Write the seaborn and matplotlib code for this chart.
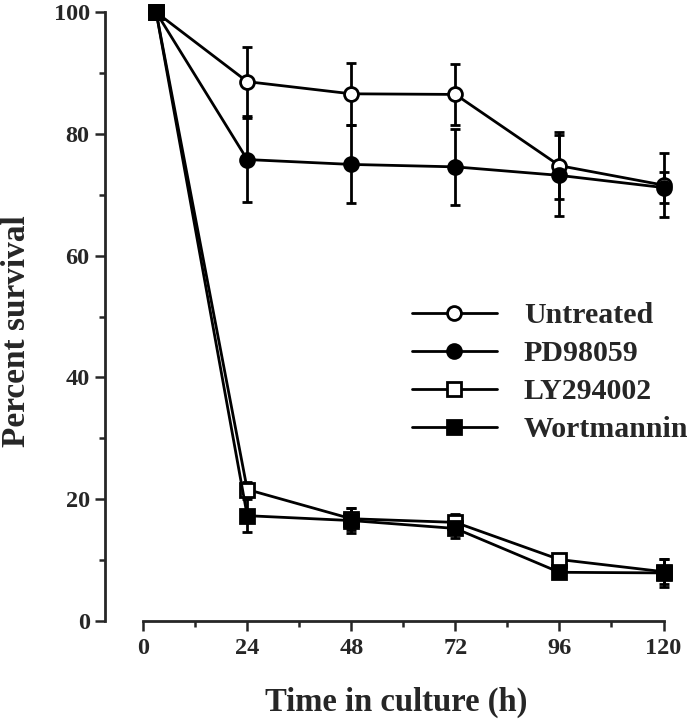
import numpy as np
import pandas as pd
import seaborn as sns
import matplotlib.pyplot as plt
from matplotlib.lines import Line2D
from matplotlib.ticker import MultipleLocator

# time points (h); first measurement is plotted just right of 0
hours = [3, 24, 48, 72, 96, 120]

untreated = [100, 88.6, 86.6, 86.5, 74.8, 71.6]
untreated_err = [0, 5.7, 5.1, 5.0, 5.5, 5.2]

pd98059 = [100, 75.8, 75.0, 74.6, 73.2, 71.2]
pd98059_err = [0, 6.9, 6.4, 6.3, 6.6, 2.6]

ly294002 = [100, 21.6, 16.8, 16.2, 10.1, 8.1]
ly294002_err = [0, 1.2, 1.8, 1.3, 0.6, 2.1]

wortmannin = [100, 17.3, 16.5, 15.2, 8.0, 7.9]
wortmannin_err = [0, 2.7, 2.0, 1.6, 0.6, 2.3]

labels = ["Untreated", "PD98059", "LY294002", "Wortmannin"]

sns.set_style("ticks")
plt.rcParams['font.family'] = ['Liberation Serif', 'DejaVu Serif']
plt.rcParams['font.weight'] = 'bold'

series = [
    (labels[0], untreated, untreated_err, 'o', 'white', 10),
    (labels[1], pd98059, pd98059_err, 'o', 'black', 10),
    (labels[2], ly294002, ly294002_err, 's', 'white', 10),
    (labels[3], wortmannin, wortmannin_err, 's', 'black', 10),
]

fig = plt.figure(figsize=(6.93, 7.2), dpi=100)
ax = fig.add_axes([0.1515, 0.1375, 0.831, 0.8455])

lw = 2.0
handles = []
for name, vals, errs, mk, fc, ms in series:
    df = pd.DataFrame({"hours": hours, "survival": vals})
    ax.errorbar(hours, vals, yerr=errs, fmt='none', ecolor='black',
                elinewidth=lw, capsize=3.3, capthick=lw, zorder=2)
    sns.lineplot(data=df, x="hours", y="survival", ax=ax, color='black',
                 linewidth=lw, marker=mk, markersize=ms, markerfacecolor=fc,
                 markeredgecolor='black', markeredgewidth=lw, zorder=3,
                 clip_on=False)
    handles.append(Line2D([], [], color='black', linewidth=lw, marker=mk,
                          markersize=ms, markerfacecolor=fc,
                          markeredgecolor='black', markeredgewidth=lw))

ax.set_xlim(-8.8, 124)
ax.set_ylim(0, 100)
ax.set_xticks([0, 24, 48, 72, 96, 120])
ax.xaxis.set_minor_locator(MultipleLocator(12))
ax.set_yticks([0, 20, 40, 60, 80, 100])
ax.yaxis.set_minor_locator(MultipleLocator(10))

sns.despine(ax=ax)
ax.spines['bottom'].set_bounds(0, 120)
for s in ['left', 'bottom']:
    ax.spines[s].set_linewidth(2)
ax.tick_params(which='major', length=7, width=1.8, labelsize=17.5, pad=4)
ax.tick_params(which='minor', length=4.3, width=1.8)
ax.tick_params(axis='x', which='major', pad=5)

ax.set_xlabel("Time in culture (h)", fontsize=23.5, fontweight='bold')
ax.xaxis.set_label_coords(0.505, -0.108)
ax.set_ylabel("Percent survival", fontsize=24, fontweight='bold')
ax.yaxis.set_label_coords(-0.126, 0.476)

ax.legend(handles, labels, loc='upper left', bbox_to_anchor=(0.533, 0.524),
          frameon=False, handlelength=2.85, handletextpad=0.9,
          labelspacing=0.37, borderpad=0, borderaxespad=0,
          prop={'weight': 'bold', 'size': 21.5})

fig.savefig("out.png", dpi=100)
